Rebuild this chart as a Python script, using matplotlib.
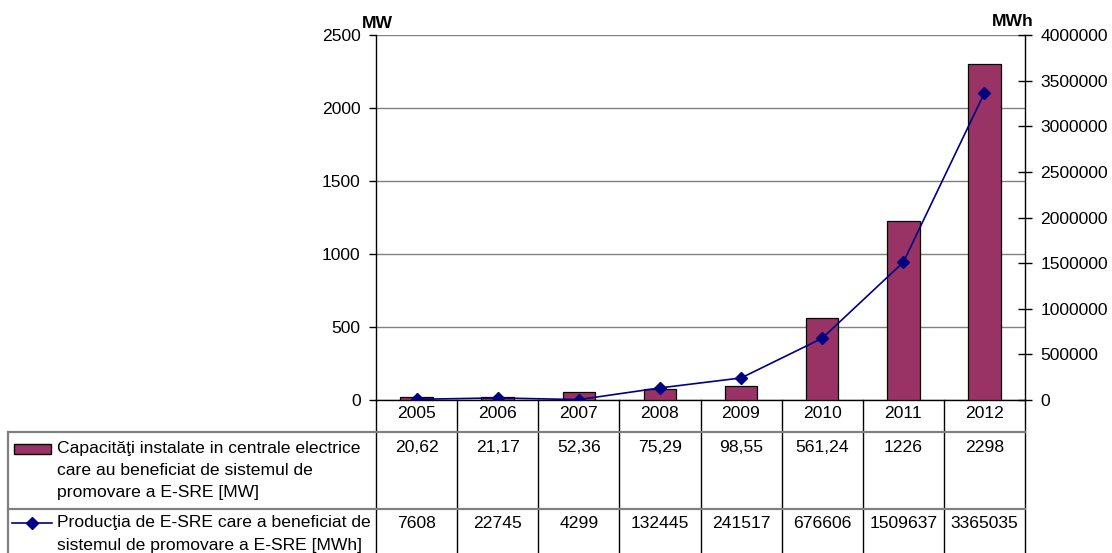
import numpy as np
import matplotlib
matplotlib.use("Agg")
import matplotlib.pyplot as plt
from matplotlib.lines import Line2D
from matplotlib.patches import Rectangle
from matplotlib import transforms
from matplotlib.ticker import FuncFormatter

plt.rcParams['font.family'] = ['Liberation Sans', 'DejaVu Sans']

years = ['2005', '2006', '2007', '2008', '2009', '2010', '2011', '2012']
mw = [20.62, 21.17, 52.36, 75.29, 98.55, 561.24, 1226, 2298]
mwh = [7608, 22745, 4299, 132445, 241517, 676606, 1509637, 3365035]
mw_labels = ['20,62', '21,17', '52,36', '75,29', '98,55', '561,24', '1226', '2298']
mwh_labels = ['7608', '22745', '4299', '132445', '241517', '676606', '1509637', '3365035']
row1_name = ['Capacităţi instalate in centrale electrice',
             'care au beneficiat de sistemul de',
             'promovare a E-SRE [MW]']
row2_name = ['Producţia de E-SRE care a beneficiat de',
             'sistemul de promovare a E-SRE [MWh]']

bar_color = '#993366'
line_color = '#000080'
grid_color = '#808080'
fs = 12.6

W, H = 1112, 553
fig = plt.figure(figsize=(W / 100, H / 100), dpi=100)


def fx(px):
    return px / W


def fy(py):
    return 1 - py / H


ax = fig.add_axes([fx(376), fy(400), fx(1025) - fx(376), fy(35) - fy(400)])
x = np.arange(len(years))
ax.bar(x, mw, width=0.4, color=bar_color, edgecolor='black', linewidth=0.9, zorder=3)
ax.set_xlim(-0.5, len(years) - 0.5)
ax.set_ylim(0, 2500)
ax.set_yticks(np.arange(0, 2501, 500))
ax.set_xticks([])
ax.yaxis.grid(True, color=grid_color, linewidth=1.0)
ax.set_axisbelow(True)
for s in ['top', 'right']:
    ax.spines[s].set_visible(False)
ax.spines['left'].set_linewidth(1.0)
ax.spines['bottom'].set_linewidth(1.0)
ax.tick_params(axis='y', labelsize=fs, length=5, pad=6, width=1.0)

ax2 = ax.twinx()
ax2.plot(x, mwh, color=line_color, marker='D', markersize=6, linewidth=1.2, zorder=4)
ax2.set_ylim(0, 4000000)
ax2.set_yticks(np.arange(0, 4000001, 500000))
ax2.yaxis.set_major_formatter(FuncFormatter(lambda v, p: '%d' % v))
ax2.set_xlim(-0.5, len(years) - 0.5)
for s in ['top', 'left', 'bottom']:
    ax2.spines[s].set_visible(False)
ax2.spines['right'].set_linewidth(1.0)
ax2.tick_params(axis='y', labelsize=fs, direction='inout', length=10, pad=6, width=1.0)

fig.text(fx(362), fy(28), 'MW', fontsize=fs, fontweight='bold', ha='left', va='baseline')
fig.text(fx(1034), fy(26), 'MWh', fontsize=fs, fontweight='bold', ha='right', va='baseline')

# data table under the chart
blend = transforms.blended_transform_factory(ax.transData, fig.transFigure)
for b in np.arange(-0.5, len(years)):
    fig.add_artist(Line2D([b, b], [fy(400), fy(560)], transform=blend,
                          color='black', linewidth=1.0))
for yy in [432, 509]:
    fig.add_artist(Line2D([fx(8), fx(1025)], [fy(yy), fy(yy)], transform=fig.transFigure,
                          color=grid_color, linewidth=1.6))
fig.add_artist(Line2D([fx(8), fx(8)], [fy(432), fy(560)], transform=fig.transFigure,
                      color=grid_color, linewidth=1.6))

for i in range(len(years)):
    fig.text(i, fy(414), years[i], transform=blend, fontsize=fs, ha='center', va='center')
    fig.text(i, fy(448), mw_labels[i], transform=blend, fontsize=fs, ha='center', va='center')
    fig.text(i, fy(523), mwh_labels[i], transform=blend, fontsize=fs, ha='center', va='center')

for k, line in enumerate(row1_name):
    fig.text(fx(57), fy(448 + 22.5 * k), line, fontsize=fs, ha='left', va='center')
for k, line in enumerate(row2_name):
    fig.text(fx(57), fy(523 + 22.5 * k), line, fontsize=fs, ha='left', va='center')

fig.add_artist(Rectangle((fx(14), fy(454)), fx(51) - fx(14), fy(444) - fy(454),
                         transform=fig.transFigure, facecolor=bar_color,
                         edgecolor='black', linewidth=1.0))
fig.add_artist(Line2D([fx(12), fx(52)], [fy(523), fy(523)], transform=fig.transFigure,
                      color=line_color, linewidth=1.2))
fig.add_artist(Line2D([fx(32)], [fy(523)], transform=fig.transFigure, color=line_color,
                      marker='D', markersize=6, linestyle='none'))

fig.savefig('out.png', dpi=100)
